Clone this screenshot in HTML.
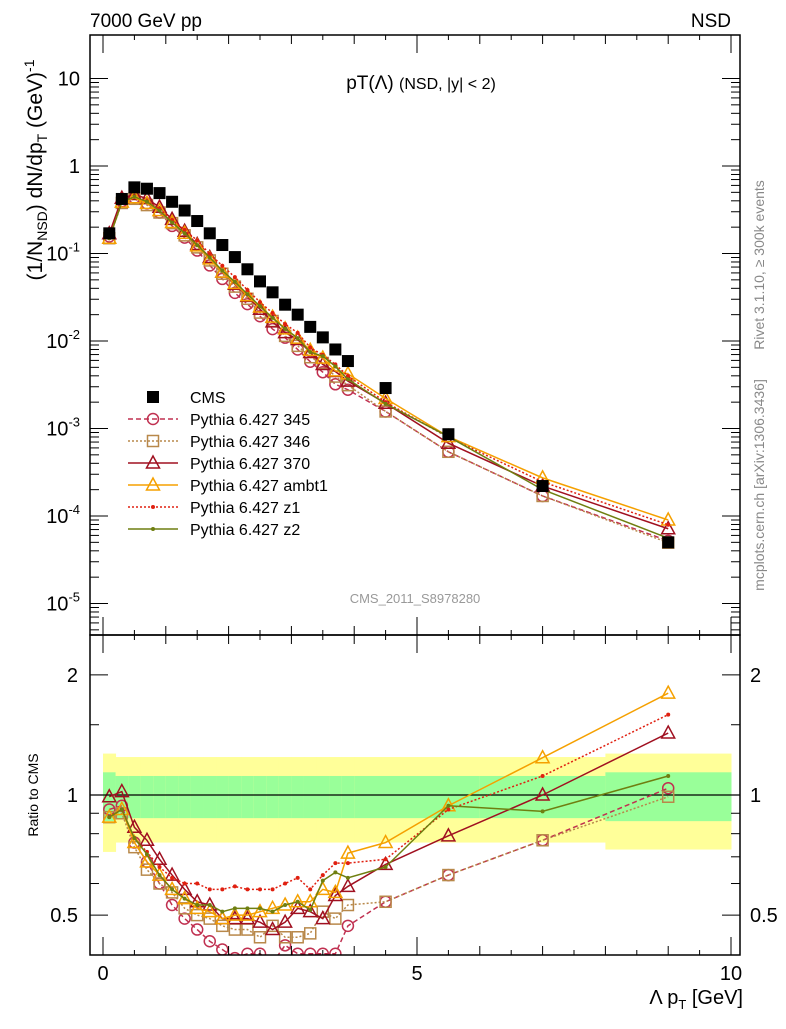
<!DOCTYPE html>
<html><head><meta charset="utf-8"><style>
body{margin:0;background:#fff;}
svg{font-family:"Liberation Sans",sans-serif;}
</style></head><body>
<svg id="c" width="786" height="1024" xmlns="http://www.w3.org/2000/svg">
<text x="90" y="27" font-size="19">7000 GeV pp</text>
<text x="731" y="27" font-size="19" text-anchor="end">NSD</text>
<text x="421" y="89" font-size="19" text-anchor="middle">pT(Λ) <tspan font-size="16">(NSD, |y| &lt; 2)</tspan></text>
<text x="415" y="603" font-size="13" fill="#999" text-anchor="middle">CMS_2011_S8978280</text>
<text transform="translate(764,265) rotate(-90)" font-size="14" fill="#888" text-anchor="middle">Rivet 3.1.10, ≥ 300k events</text>
<text transform="translate(764,485) rotate(-90)" font-size="14" fill="#888" text-anchor="middle">mcplots.cern.ch [arXiv:1306.3436]</text>
<text transform="translate(42,170) rotate(-90)" font-size="21" text-anchor="middle">(1/N<tspan font-size="14" dy="5">NSD</tspan><tspan dy="-5">) dN/dp</tspan><tspan font-size="14" dy="5">T</tspan><tspan dy="-5"> (GeV)</tspan><tspan font-size="14" dy="-8">-1</tspan></text>
<text transform="translate(38,795) rotate(-90)" font-size="14" text-anchor="middle">Ratio to CMS</text>
<text x="743" y="1004" font-size="20" text-anchor="end">Λ p<tspan font-size="13" dy="5">T</tspan><tspan dy="-5"> [GeV]</tspan></text>
<g id="g"></g>
</svg>
<script>
const xs=[0.1,0.3,0.5,0.7,0.9,1.1,1.3,1.5,1.7,1.9,2.1,2.3,2.5,2.7,2.9,3.1,3.3,3.5,3.7,3.9,4.5,5.5,7,9];
const cms=[0.17,0.42,0.57,0.55,0.49,0.39,0.31,0.235,0.17,0.125,0.091,0.066,0.048,0.036,0.026,0.020,0.0145,0.011,0.008,0.0059,0.0029,0.00086,0.00022,0.000050];
const r345=[0.92,0.94,0.76,0.68,0.6,0.53,0.49,0.46,0.43,0.41,0.39,0.40,0.40,0.38,0.42,0.40,0.40,0.40,0.40,0.47,0.54,0.63,0.77,1.04];
const r346=[0.88,0.90,0.74,0.65,0.6,0.57,0.52,0.5,0.49,0.47,0.46,0.46,0.44,0.47,0.44,0.44,0.45,0.51,0.49,0.53,0.54,0.63,0.77,0.99];
const r370=[0.99,1.02,0.83,0.77,0.69,0.63,0.58,0.54,0.53,0.49,0.49,0.49,0.48,0.46,0.48,0.52,0.51,0.49,0.56,0.59,0.67,0.79,1.0,1.43];
const rambt1=[0.88,0.92,0.76,0.68,0.63,0.58,0.55,0.52,0.51,0.49,0.50,0.50,0.51,0.52,0.53,0.54,0.54,0.58,0.57,0.715,0.76,0.94,1.24,1.8];
const rz1=[0.88,0.92,0.78,0.72,0.66,0.62,0.60,0.60,0.58,0.58,0.59,0.58,0.58,0.58,0.60,0.62,0.58,0.63,0.675,0.675,0.69,0.92,1.116,1.59];
const rz2=[0.88,0.92,0.78,0.71,0.63,0.58,0.55,0.53,0.53,0.51,0.52,0.52,0.52,0.51,0.53,0.54,0.515,0.61,0.64,0.62,0.66,0.94,0.91,1.116];
const bandEdges=[0,0.2,0.4,0.6,0.8,1.0,1.2,1.4,1.6,1.8,2.0,2.2,2.4,2.6,2.8,3.0,3.2,3.4,3.6,3.8,4.0,5.0,6.0,8.0,10.0];
const yellowHi=[1.27,1.245,1.245,1.245,1.245,1.245,1.245,1.245,1.245,1.245,1.245,1.245,1.245,1.245,1.245,1.245,1.245,1.245,1.245,1.245,1.245,1.245,1.245,1.27];
const yellowLo=[0.72,0.76,0.76,0.76,0.76,0.76,0.76,0.76,0.76,0.76,0.76,0.76,0.76,0.76,0.76,0.76,0.76,0.76,0.76,0.76,0.76,0.76,0.76,0.73];
const greenHi=[1.14,1.116,1.116,1.116,1.116,1.116,1.116,1.116,1.116,1.116,1.116,1.116,1.116,1.116,1.116,1.116,1.116,1.116,1.116,1.116,1.116,1.116,1.116,1.14];
const greenLo=[0.86,0.875,0.875,0.875,0.875,0.875,0.875,0.875,0.875,0.875,0.875,0.875,0.875,0.875,0.875,0.875,0.875,0.875,0.875,0.875,0.875,0.875,0.875,0.86];
const yTicks=[1,0,-1,-2,-3,-4,-5];
const legendNames=["Pythia 6.427 345","Pythia 6.427 346","Pythia 6.427 370","Pythia 6.427 ambt1","Pythia 6.427 z1","Pythia 6.427 z2"];

const NS="http://www.w3.org/2000/svg",g=document.getElementById('g');
const L=90,R=740,T=35,MB=635,RB=955;
const X=v=>103+v*62.8;
const Y=v=>166-Math.log10(v)*87.5;
const RY=v=>795-Math.log10(v)*399;
function el(t,a,p){const e=document.createElementNS(NS,t);for(const k in a)e.setAttribute(k,a[k]);(p||g).appendChild(e);return e;}
const defs=el('defs',{});
const cp=el('clipPath',{id:'cm'},defs);el('rect',{x:L,y:T,width:R-L,height:MB-T},cp);
const cr=el('clipPath',{id:'cr'},defs);el('rect',{x:L,y:MB,width:R-L,height:RB-MB},cr);
const bg=el('g',{'clip-path':'url(#cr)'});


for(let i=0;i<bandEdges.length-1;i++){
  const x0=X(bandEdges[i]),w=X(bandEdges[i+1])-x0+0.5;
  const r1=el('rect',{x:x0,y:RY(yellowHi[i]),width:w,height:RY(yellowLo[i])-RY(yellowHi[i]),fill:'#ffff99'},bg);
  
  
  const r2=el('rect',{x:x0,y:RY(greenHi[i]),width:w,height:RY(greenLo[i])-RY(greenHi[i]),fill:'#99ff99'},bg);
  
  
}
el('line',{x1:L,x2:R,y1:RY(1),y2:RY(1),stroke:'#000','stroke-width':1.2});
const series=[
 {n:'345',r:r345,c:'#c03050',d:'5,3',m:'circle'},
 {n:'346',r:r346,c:'#b8884a',d:'2,2',m:'square'},
 {n:'370',r:r370,c:'#a01020',d:'',m:'tri'},
 {n:'ambt1',r:rambt1,c:'#f5a000',d:'',m:'tri'},
 {n:'z1',r:rz1,c:'#e02010',d:'2,2',m:'dot'},
 {n:'z2',r:rz2,c:'#6f7f10',d:'',m:'dot'}];
function marker(m,x,y,c,p,name){
  let e;
  if(m=='circle')e=el('circle',{cx:x,cy:y,r:5.5,fill:'none',stroke:c,'stroke-width':1.5},p);
  else if(m=='square')e=el('rect',{x:x-5.5,y:y-5.5,width:11,height:11,fill:'none',stroke:c,'stroke-width':1.5},p);
  else if(m=='tri')e=el('path',{d:`M${x},${y-7}L${x+6.5},${y+5}L${x-6.5},${y+5}Z`,fill:'none',stroke:c,'stroke-width':1.5},p);
  else if(m=='dot')e=el('circle',{cx:x,cy:y,r:2,fill:c},p);
  else e=el('rect',{x:x-6,y:y-6,width:12,height:12,fill:'#000'},p);
  
  
}
const mg=el('g',{'clip-path':'url(#cm)'}),rg=el('g',{'clip-path':'url(#cr)'});
series.forEach(s=>{
  const main=s.r.map((v,i)=>v*cms[i]);
  const pm=el('polyline',{points:xs.map((x,i)=>X(x)+','+Y(main[i])).join(' '),fill:'none',stroke:s.c,'stroke-width':1.5,'stroke-dasharray':s.d},mg);
  
  
  const pr=el('polyline',{points:xs.map((x,i)=>X(x)+','+RY(s.r[i])).join(' '),fill:'none',stroke:s.c,'stroke-width':1.5,'stroke-dasharray':s.d},rg);
  
  
  xs.forEach((x,i)=>{marker(s.m,X(x),Y(main[i]),s.c,mg,'point-'+s.n);marker(s.m,X(x),RY(s.r[i]),s.c,rg,'ratio-point-'+s.n);});
});
xs.forEach((x,i)=>marker('cms',X(x),Y(cms[i]),'#000',mg,'cms-point'));
el('rect',{x:L,y:T,width:R-L,height:MB-T,fill:'none',stroke:'#000','stroke-width':1.5});
el('rect',{x:L,y:MB,width:R-L,height:RB-MB,fill:'none',stroke:'#000','stroke-width':1.5});
yTicks.forEach(e=>{
  const y=Y(Math.pow(10,e));
  el('line',{x1:L,x2:L+18,y1:y,y2:y,stroke:'#000'});el('line',{x1:R,x2:R-18,y1:y,y2:y,stroke:'#000'});
  for(let k=2;k<10;k++){const yy=Y(k*Math.pow(10,e-1));if(yy<MB&&yy>T){el('line',{x1:L,x2:L+9,y1:yy,y2:yy,stroke:'#000'});el('line',{x1:R,x2:R-9,y1:yy,y2:yy,stroke:'#000'});}}
  const t=el('text',{x:80,y:y+7,'font-size':20,'text-anchor':'end'});
  
  
  if(e==1)t.textContent='10';else if(e==0)t.textContent='1';
  else{t.textContent='10';const ts=el('tspan',{dy:-9,'font-size':13},t);ts.textContent=String(e);}
});
[[0.5,'0.5'],[1,'1'],[2,'2']].forEach(([v,s])=>{
  const y=RY(v);
  el('line',{x1:L,x2:L+18,y1:y,y2:y,stroke:'#000'});el('line',{x1:R,x2:R-18,y1:y,y2:y,stroke:'#000'});
  const t1=el('text',{x:78,y:y+7,'font-size':20,'text-anchor':'end'});t1.textContent=s;
  
  
  const t2=el('text',{x:750,y:y+7,'font-size':20});t2.textContent=s;
  
  
});
[0.6,0.7,0.8,0.9,1.5].forEach(v=>{const y=RY(v);el('line',{x1:L,x2:L+9,y1:y,y2:y,stroke:'#000'});el('line',{x1:R,x2:R-9,y1:y,y2:y,stroke:'#000'});});
for(let v=0;v<=10;v+=0.5){
  const x=X(v),mj=v%5==0,len=mj?18:(v%1==0?9:5);
  el('line',{x1:x,x2:x,y1:T,y2:T+len,stroke:'#000'});
  el('line',{x1:x,x2:x,y1:MB,y2:MB-len,stroke:'#000'});
  el('line',{x1:x,x2:x,y1:MB,y2:MB+len,stroke:'#000'});
  el('line',{x1:x,x2:x,y1:RB,y2:RB-len,stroke:'#000'});
  if(mj){const t=el('text',{x:x,y:980,'font-size':20,'text-anchor':'middle'});t.textContent=String(v);
    
    }
}
const lg=el('g',{});


marker('cms',153,397,'#000',lg,'legend-cms-marker');
const tc=el('text',{x:190,y:403,'font-size':16},lg);tc.textContent='CMS';


series.forEach((s,i)=>{
  const y=419+i*22;
  el('line',{x1:128,x2:178,y1:y,y2:y,stroke:s.c,'stroke-width':1.5,'stroke-dasharray':s.d},lg);
  marker(s.m,153,y,s.c,lg,'legend-marker-'+s.n);
  const t=el('text',{x:190,y:y+6,'font-size':16},lg);t.textContent=legendNames[i];
  
  
});
</script>
</body></html>
